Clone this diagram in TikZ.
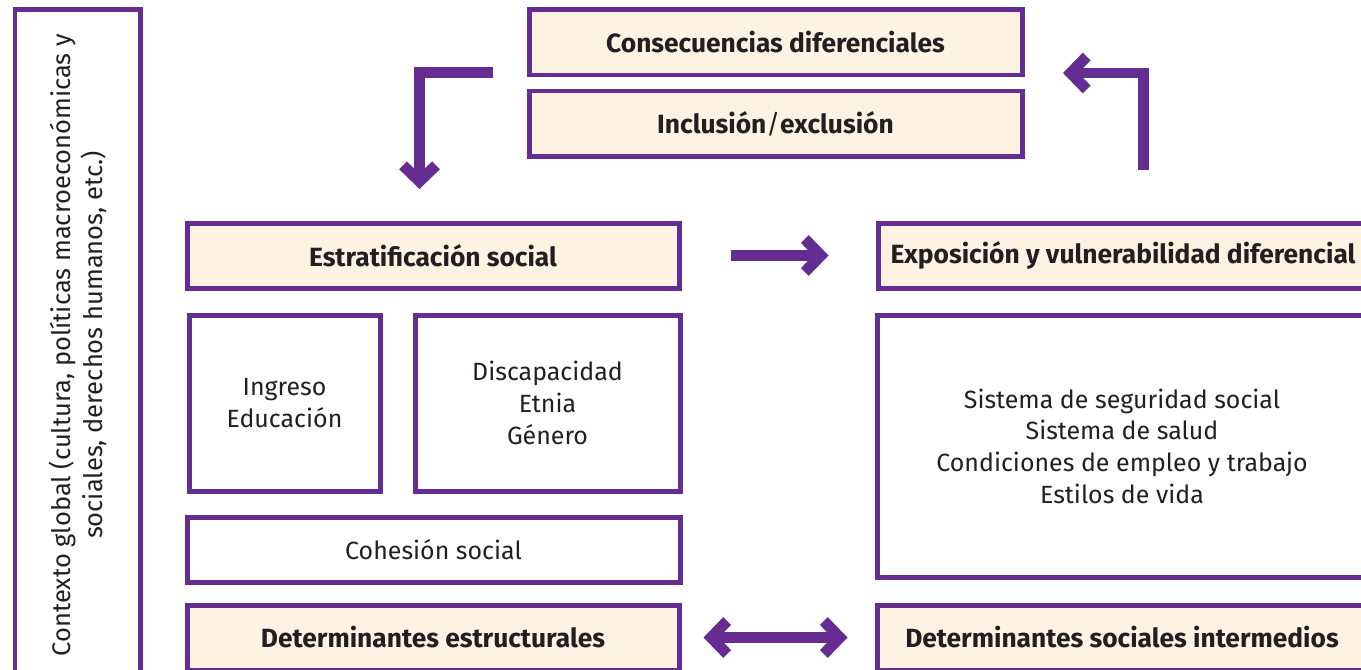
\documentclass[tikz,border=0pt]{standalone}
\usepackage{fontspec}
\setmainfont{Fira Sans}
\usepackage{tikz}
\usetikzlibrary{arrows.meta,calc}
\definecolor{morado}{RGB}{101,45,145}
\definecolor{crema}{RGB}{254,243,226}
\definecolor{tinta}{RGB}{35,31,32}
\newdimen\pxu
\pxu=0.02cm

\tikzset{
  caja/.style={draw=morado, line width=1mm, fill=white, text=tinta, inner sep=0pt, align=center,
    font=\fontsize{14.2}{18}\selectfont},
  titulo/.style={caja, fill=crema, font=\fontsize{15}{18}\selectfont\bfseries},
  flecha/.style={draw=morado, line width=2.2mm, -{Straight Barb[length=3.2mm,width=6.6mm]}},
  dobleflecha/.style={flecha, {Straight Barb[length=3.2mm,width=6.6mm]}-{Straight Barb[length=3.2mm,width=6.6mm]}}
}

\begin{document}
\begin{tikzpicture}[x=0.02cm,y=-0.02cm]
\clip (0,0) rectangle (1361,669);
\fill[white] (0,0) rectangle (1361,669);
%%% contexto global
\node[caja, minimum width=125\pxu, minimum height=680\pxu] (contexto) at (77.5,350) {};
\node[rotate=90, align=center, text=tinta, font=\fontsize{14.5}{18}\selectfont] (ctxtexto) at (78,345)
  {Contexto global (cultura, pol\'iticas macroecon\'omicas y\\ sociales, derechos humanos, etc.)};
%%% consecuencias
\node[titulo, minimum width=493\pxu, minimum height=65\pxu] (conse) at (775.5,42.5) {Consecuencias diferenciales};
\node[titulo, minimum width=493\pxu, minimum height=65\pxu] (inclu) at (775.5,123.5) {Inclusi\'on{\mdseries/}exclusi\'on};
%%% determinantes estructurales
\node[titulo, minimum width=492\pxu, minimum height=65\pxu] (estr) at (433,255.5) {Estratificaci\'on social};
\node[caja, minimum width=191\pxu, minimum height=176\pxu] (ingreso) at (284.5,403) {Ingreso\\Educaci\'on};
\node[caja, minimum width=265\pxu, minimum height=176\pxu] (disca) at (547.5,403) {Discapacidad\\Etnia\\G\'enero};
\node[caja, minimum width=493\pxu, minimum height=65\pxu] (cohesion) at (433.5,549.5) {Cohesi\'on social};
\node[titulo, minimum width=492\pxu, minimum height=65\pxu] (detest) at (433,637.5) {Determinantes estructurales};
%%% determinantes intermedios
\node[titulo, minimum width=490\pxu, minimum height=65\pxu] (expo) at (1123,255.5) {Exposici\'on y vulnerabilidad diferencial};
\node[caja, minimum width=490\pxu, minimum height=262\pxu] (sistema) at (1122,446)
  {Sistema de seguridad social\\Sistema de salud\\Condiciones de empleo y trabajo\\Estilos de vida};
\node[titulo, minimum width=490\pxu, minimum height=65\pxu] (detint) at (1122,637.5) {Determinantes sociales intermedios};
%%% flechas
\coordinate (baja0) at (493,72.5);
\coordinate (baja1) at (419.5,189);
\coordinate (sube0) at (1143,170);
\coordinate (sube1) at (1063,73);
\draw[flecha] (baja0) -| (baja1);
\draw[flecha] (sube0) |- (sube1);
\draw[flecha] ($(estr.east)+(49,0)$) -- ($(expo.west)+(-47,0)$);
\draw[dobleflecha] ($(detest.east)+(22,0)$) -- ($(detint.west)+(-27,0)$);
\end{tikzpicture}
\end{document}
